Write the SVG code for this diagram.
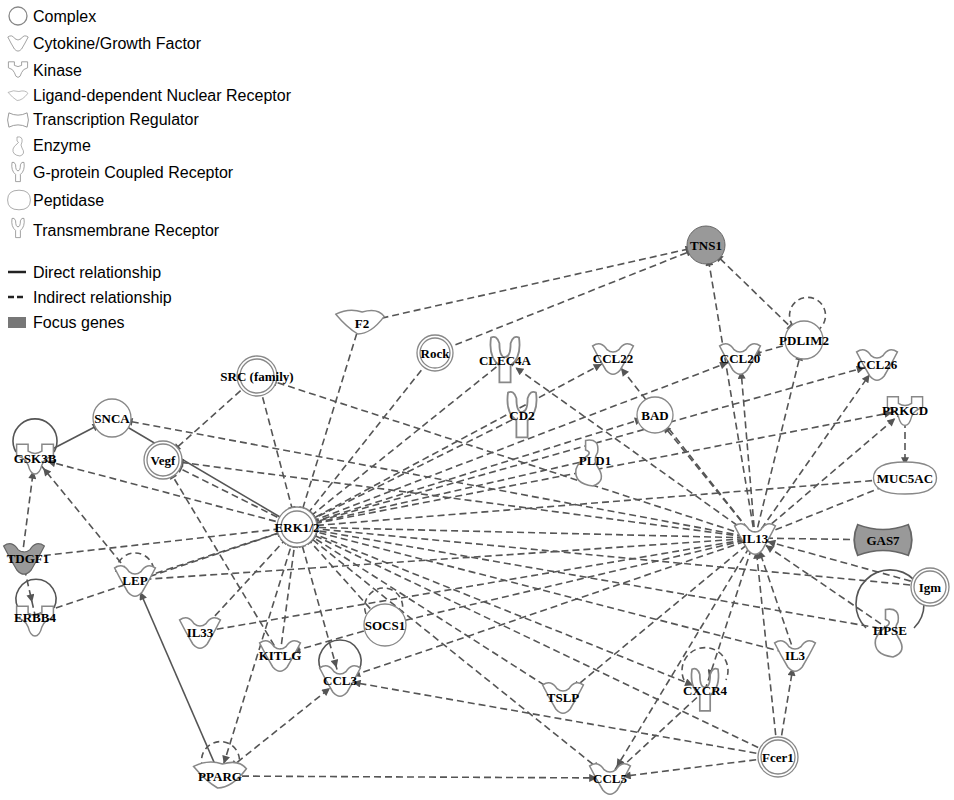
<svg xmlns="http://www.w3.org/2000/svg" width="954" height="800" viewBox="0 0 954 800">
<style>
.e{stroke:#555;stroke-width:1.6;fill:none;stroke-dasharray:7,4;marker-end:url(#a)}
.b{marker-start:url(#a)}
.lp{stroke:#555;stroke-width:1.6;fill:none;stroke-dasharray:6,4}
.s{stroke-dasharray:none}
.n{fill:#fff;stroke:#888;stroke-width:1.3}
.f{fill:#999;stroke:#666}
text{font-family:"Liberation Serif",serif;font-weight:bold;font-size:13px;text-anchor:middle}
.lg{font-family:"Liberation Sans",Arial,sans-serif;font-weight:normal;font-size:16px;text-anchor:start}
</style>
<defs>
<marker id="a" viewBox="0 0 10 10" refX="26" refY="5" markerWidth="10" markerHeight="8" markerUnits="userSpaceOnUse" orient="auto-start-reverse"><path d="M0,0L10,5L0,10z" fill="#555"/></marker>
<path id="cy" d="M-17,-10Q-10,-15 -5,-7Q0,-3 5,-7Q10,-15 17,-10Q12,0 6,10Q0,17 -6,10Q-12,0 -17,-10Z"/>
<path id="ki" d="M-16,-12L-6,-12L-6,-6Q0,-2 6,-6L6,-12L16,-12L16,-2Q8,0 6,6Q4,14 0,14Q-4,14 -6,6Q-8,0 -16,-2Z"/>
<path id="tr" d="M-14,-11Q0,-4 14,-11Q18,0 14,11Q0,4 -14,11Q-18,0 -14,-11Z"/>
<path id="gp" d="M-10,-16Q-12,-2 -4,4L-4,16L4,16L4,4Q12,-2 10,-16Q6,-18 4,-12Q4,-2 0,-2Q-4,-2 -4,-12Q-6,-18 -10,-16Z"/>
<path id="lg" d="M-22,-8Q-10,-14 2,-10Q16,-14 22,-6Q10,10 -2,10Q-12,4 -22,-8Z"/>
<path id="en" d="M-2,-18Q10,-20 8,-8Q4,-2 8,4Q16,16 4,20Q-12,18 -10,6Q-8,0 -2,-4Q4,-8 -2,-10Z"/>
<path id="pe" d="M-30,0Q-30,-14 0,-14Q30,-14 30,0Q30,14 0,14Q-30,14 -30,0Z"/>
</defs>

<g id="legend">
<circle cx="18" cy="16" r="9" class="n" stroke="#666"/><text class="lg" x="33" y="22">Complex</text>
<use href="#cy" transform="translate(18,43) scale(0.6)" class="n"/><text class="lg" x="33" y="49">Cytokine/Growth Factor</text>
<use href="#ki" transform="translate(18,69) scale(0.6)" class="n"/><text class="lg" x="33" y="76">Kinase</text>
<use href="#lg" transform="translate(18,96) scale(0.45)" class="n"/><text class="lg" x="33" y="101">Ligand-dependent Nuclear Receptor</text>
<use href="#tr" transform="translate(18,120) scale(0.65)" class="n"/><text class="lg" x="33" y="125">Transcription Regulator</text>
<use href="#en" transform="translate(18,146) scale(0.5)" class="n"/><text class="lg" x="33" y="151">Enzyme</text>
<use href="#gp" transform="translate(18,172) scale(0.6)" class="n"/><text class="lg" x="33" y="178">G-protein Coupled Receptor</text>
<use href="#pe" transform="translate(19,200) scale(0.38,0.7)" class="n"/><text class="lg" x="33" y="206">Peptidase</text>
<use href="#gp" transform="translate(18,228) scale(0.6)" class="n"/><text class="lg" x="33" y="236">Transmembrane Receptor</text>
<line x1="8" y1="272" x2="26" y2="272" stroke="#222" stroke-width="2.5"/><text class="lg" x="33" y="278">Direct relationship</text>
<line x1="8" y1="297" x2="26" y2="297" stroke="#222" stroke-width="2.5" stroke-dasharray="6,3"/><text class="lg" x="33" y="303">Indirect relationship</text>
<rect x="8" y="317" width="18" height="11" fill="#777"/><text class="lg" x="33" y="328">Focus genes</text>
</g>

<g id="connectors">
<line class="e" x1="257" y1="376" x2="297" y2="527"/>
<line class="e" x1="360" y1="323" x2="297" y2="527"/>
<line class="e" x1="435" y1="353" x2="297" y2="527"/>
<line class="e" x1="505" y1="360" x2="297" y2="527"/>
<line class="e b" x1="613" y1="358" x2="297" y2="527"/>
<line class="e b" x1="740" y1="358" x2="297" y2="527"/>
<line class="e b" x1="877" y1="364" x2="297" y2="527"/>
<line class="e" x1="522" y1="415" x2="297" y2="527"/>
<line class="e b" x1="655" y1="415" x2="297" y2="527"/>
<line class="e b" x1="905" y1="410" x2="297" y2="527"/>
<line class="e" x1="590" y1="460" x2="297" y2="527"/>
<line class="e b" x1="905" y1="478" x2="297" y2="527"/>
<line class="e" x1="755" y1="538" x2="297" y2="527"/>
<line class="e" x1="932" y1="587" x2="297" y2="527"/>
<line class="e" x1="890" y1="630" x2="297" y2="527"/>
<line class="e b" x1="385" y1="625" x2="297" y2="527"/>
<line class="e" x1="795" y1="655" x2="297" y2="527"/>
<line class="e b" x1="705" y1="690" x2="297" y2="527"/>
<line class="e b" x1="563" y1="697" x2="297" y2="527"/>
<line class="e" x1="778" y1="757" x2="297" y2="527"/>
<line class="e b" x1="610" y1="778" x2="297" y2="527"/>
<line class="e b" x1="340" y1="680" x2="297" y2="527"/>
<line class="e" x1="280" y1="655" x2="297" y2="527"/>
<line class="e" x1="200" y1="632" x2="297" y2="527"/>
<line class="e" x1="135" y1="580" x2="297" y2="527"/>
<line class="e" x1="22" y1="558" x2="297" y2="527"/>
<line class="e" x1="35" y1="615" x2="297" y2="527"/>
<line class="e b" x1="220" y1="776" x2="297" y2="527"/>
<line class="e" x1="297" y1="527" x2="35" y2="458"/>
<line class="e" x1="297" y1="527" x2="163" y2="460"/>
<line class="e s" style="marker-end:none" x1="112" y1="418" x2="297" y2="527"/>
<line class="e" x1="755" y1="538" x2="706" y2="245"/>
<line class="e" x1="755" y1="538" x2="740" y2="358"/>
<line class="e" x1="755" y1="538" x2="804" y2="340"/>
<line class="e" x1="755" y1="538" x2="877" y2="364"/>
<line class="e" x1="755" y1="538" x2="905" y2="410"/>
<line class="e" x1="755" y1="538" x2="905" y2="478"/>
<line class="e" x1="755" y1="538" x2="883" y2="540"/>
<line class="e" x1="755" y1="538" x2="613" y2="358"/>
<line class="e" x1="755" y1="538" x2="655" y2="415"/>
<line class="e" x1="755" y1="538" x2="505" y2="360"/>
<line class="e" x1="755" y1="538" x2="257" y2="376"/>
<line class="e" x1="755" y1="538" x2="112" y2="418"/>
<line class="e" x1="755" y1="538" x2="163" y2="460"/>
<line class="e" x1="755" y1="538" x2="385" y2="625"/>
<line class="e" x1="755" y1="538" x2="340" y2="680"/>
<line class="e" x1="755" y1="538" x2="563" y2="697"/>
<line class="e" x1="755" y1="538" x2="705" y2="690"/>
<line class="e" x1="755" y1="538" x2="610" y2="778"/>
<line class="e" style="marker-end:none" x1="755" y1="538" x2="135" y2="580"/>
<line class="e" style="marker-end:none" x1="755" y1="538" x2="200" y2="632"/>
<line class="e" x1="932" y1="587" x2="755" y2="538"/>
<line class="e" x1="890" y1="630" x2="755" y2="538"/>
<line class="e" x1="778" y1="757" x2="755" y2="538"/>
<line class="e" x1="795" y1="655" x2="755" y2="538"/>
<line class="e" x1="360" y1="323" x2="706" y2="245"/>
<line class="e" x1="435" y1="353" x2="706" y2="245"/>
<line class="e b" x1="804" y1="340" x2="706" y2="245"/>
<line class="e" x1="804" y1="340" x2="740" y2="358"/>
<line class="e" x1="905" y1="410" x2="905" y2="478"/>
<line class="e" x1="257" y1="376" x2="163" y2="460"/>
<line class="e s b" x1="112" y1="418" x2="35" y2="458"/>
<line class="e" x1="22" y1="558" x2="35" y2="458"/>
<line class="e" x1="22" y1="558" x2="35" y2="615"/>
<line class="e" x1="135" y1="580" x2="35" y2="458"/>
<line class="e s" x1="220" y1="776" x2="135" y2="580"/>
<line class="e" x1="220" y1="776" x2="610" y2="778"/>
<line class="e b" x1="220" y1="776" x2="340" y2="680"/>
<line class="e" x1="280" y1="655" x2="163" y2="460"/>
<line class="e" x1="385" y1="625" x2="280" y2="655"/>
<line class="e" x1="778" y1="757" x2="340" y2="680"/>
<line class="e" x1="778" y1="757" x2="610" y2="778"/>
<line class="e" x1="778" y1="757" x2="795" y2="655"/>
<line class="e" x1="705" y1="690" x2="610" y2="778"/>
<path class="lp" d="M793,326A18,18 0 1 1 818,330"/>
<path class="lp s" d="M16,452A22,22 0 1 1 54,452"/>
<path class="lp s" d="M18,608A20,20 0 1 1 54,608"/>
<path class="lp" d="M116,572A19,19 0 1 1 154,572"/>
<path class="lp" d="M203,768A19,19 0 1 1 238,768"/>
<path class="lp" d="M366,614A19,19 0 1 1 402,612"/>
<path class="lp s" d="M321,670A21,21 0 1 1 359,670"/>
<path class="lp" d="M684,680A23,23 0 1 1 726,680"/>
<path class="lp s" d="M866,628A34,34 0 1 1 914,628"/>
</g>

<g id="n-TNS1"><circle cx="706" cy="245" r="19" class="f"/><text x="706" y="250">TNS1</text></g>
<g id="n-F2"><use href="#lg" transform="translate(360,323) scale(1.1)" class="n"/><text x="362" y="328">F2</text></g>
<g id="n-Rock"><circle cx="435" cy="353" r="18" class="n"/><circle cx="435" cy="353" r="15" class="n"/><text x="435" y="358">Rock</text></g>
<g id="n-CLEC4A"><use href="#gp" transform="translate(505,360) scale(1.4)" class="n"/><text x="505" y="365">CLEC4A</text></g>
<g id="n-CCL22"><use href="#cy" transform="translate(613,358) scale(1.2)" class="n"/><text x="613" y="363">CCL22</text></g>
<g id="n-CCL20"><use href="#cy" transform="translate(740,358) scale(1.2)" class="n"/><text x="740" y="363">CCL20</text></g>
<g id="n-PDLIM2"><circle cx="804" cy="340" r="19" class="n"/><text x="804" y="345">PDLIM2</text></g>
<g id="n-CCL26"><use href="#cy" transform="translate(877,364) scale(1.2)" class="n"/><text x="877" y="369">CCL26</text></g>
<g id="n-SRC"><circle cx="257" cy="376" r="20" class="n"/><circle cx="257" cy="376" r="17" class="n"/><text x="257" y="381">SRC (family)</text></g>
<g id="n-SNCA"><circle cx="112" cy="418" r="19" class="n"/><text x="112" y="423">SNCA</text></g>
<g id="n-CD2"><use href="#gp" transform="translate(522,415) scale(1.4)" class="n"/><text x="522" y="420">CD2</text></g>
<g id="n-BAD"><circle cx="655" cy="415" r="18" class="n"/><text x="655" y="420">BAD</text></g>
<g id="n-PRKCD"><use href="#ki" transform="translate(905,410) scale(1.1)" class="n"/><text x="905" y="415">PRKCD</text></g>
<g id="n-PLD1"><use href="#en" transform="translate(588,462) scale(1.2)" class="n"/><text x="595" y="465">PLD1</text></g>
<g id="n-GSK3B"><use href="#ki" transform="translate(35,458) scale(1.15)" class="n"/><text x="35" y="463">GSK3B</text></g>
<g id="n-Vegf"><circle cx="163" cy="460" r="19" class="n"/><circle cx="163" cy="460" r="16" class="n"/><text x="163" y="465">Vegf</text></g>
<g id="n-MUC5AC"><use href="#pe" transform="translate(905,478) scale(1.05,1.15)" class="n"/><text x="905" y="483">MUC5AC</text></g>
<g id="n-ERK"><circle cx="297" cy="527" r="20" class="n"/><circle cx="297" cy="527" r="16" class="n"/><text x="297" y="532">ERK1/2</text></g>
<g id="n-IL13"><use href="#cy" transform="translate(755,538) scale(1.2)" class="n"/><text x="755" y="543">IL13</text></g>
<g id="n-GAS7"><use href="#tr" transform="translate(883,540) scale(1.8,1.4)" class="f"/><text x="883" y="545">GAS7</text></g>
<g id="n-TDGF1"><use href="#cy" transform="translate(24,558) scale(1.2)" class="f"/><text x="28" y="563">TDGF1</text></g>
<g id="n-LEP"><use href="#cy" transform="translate(135,580) scale(1.2)" class="n"/><text x="135" y="585">LEP</text></g>
<g id="n-Igm"><circle cx="930" cy="587" r="19" class="n"/><circle cx="930" cy="587" r="16" class="n"/><text x="930" y="592">Igm</text></g>
<g id="n-IL33"><use href="#cy" transform="translate(200,632) scale(1.2)" class="n"/><text x="200" y="637">IL33</text></g>
<g id="n-SOCS1"><circle cx="385" cy="625" r="21" class="n"/><text x="385" y="630">SOCS1</text></g>
<g id="n-ERBB4"><use href="#ki" transform="translate(35,620) scale(1.15)" class="n"/><text x="35" y="622">ERBB4</text></g>
<g id="n-HPSE"><use href="#en" transform="translate(888,632) scale(1.25)" class="n"/><text x="890" y="635">HPSE</text></g>
<g id="n-KITLG"><use href="#cy" transform="translate(280,655) scale(1.2)" class="n"/><text x="280" y="660">KITLG</text></g>
<g id="n-CCL3"><use href="#cy" transform="translate(340,680) scale(1.2)" class="n"/><text x="340" y="685">CCL3</text></g>
<g id="n-IL3"><use href="#cy" transform="translate(795,655) scale(1.2)" class="n"/><text x="795" y="660">IL3</text></g>
<g id="n-TSLP"><use href="#cy" transform="translate(563,697) scale(1.2)" class="n"/><text x="563" y="702">TSLP</text></g>
<g id="n-CXCR4"><use href="#gp" transform="translate(705,690) scale(1.3)" class="n"/><text x="705" y="695">CXCR4</text></g>
<g id="n-PPARG"><use href="#lg" transform="translate(220,776) scale(1.2)" class="n"/><text x="220" y="781">PPARG</text></g>
<g id="n-CCL5"><use href="#cy" transform="translate(610,778) scale(1.2)" class="n"/><text x="610" y="783">CCL5</text></g>
<g id="n-Fcer1"><circle cx="778" cy="757" r="20" class="n"/><circle cx="778" cy="757" r="17" class="n"/><text x="778" y="762">Fcer1</text></g>
</svg>
